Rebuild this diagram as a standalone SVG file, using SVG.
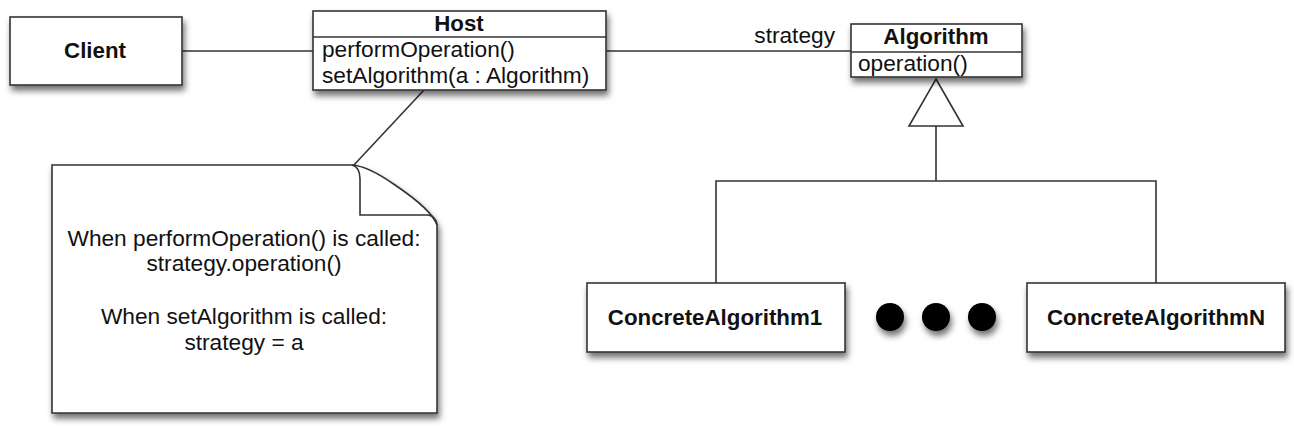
<svg xmlns="http://www.w3.org/2000/svg" width="1294" height="444" viewBox="0 0 1294 444">
<defs>
<filter id="sh" x="-10%" y="-20%" width="125%" height="160%">
<feDropShadow dx="2" dy="5" stdDeviation="3" flood-color="#000" flood-opacity="0.55"/>
</filter>
<style>
.box{fill:#fff;stroke:#333;stroke-width:1.6;}
.ln{fill:none;stroke:#333;stroke-width:1.6;}
.t{font-family:"Liberation Sans",Arial,sans-serif;font-size:22.7px;fill:#111;}
.b{font-weight:bold;font-size:22.3px;}
.c{text-anchor:middle;}
</style>
</defs>
<rect width="1294" height="444" fill="#fff"/>
<g id="connectors">
<line class="ln" x1="182" y1="51" x2="313" y2="51"/>
<line class="ln" x1="606" y1="51" x2="851" y2="51"/>
<line class="ln" x1="424" y1="90" x2="353" y2="166"/>
<path class="ln" d="M716,283 L716,181 L1156,181 L1156,283"/>
<line class="ln" x1="936" y1="181" x2="936" y2="126"/>
<polygon class="box" points="936,79 963,126 909,126"/>
<text class="t" x="835" y="43" text-anchor="end">strategy</text>
</g>
<g id="client">
<rect class="box" x="10" y="17" width="172" height="68" filter="url(#sh)"/>
<text class="t b c" x="95" y="58">Client</text>
</g>
<g id="host">
<rect class="box" x="313" y="11" width="293" height="79" filter="url(#sh)"/>
<line class="ln" x1="313" y1="37" x2="606" y2="37"/>
<text class="t b c" x="459" y="31">Host</text>
<text class="t" x="322" y="57">performOperation()</text>
<text class="t" x="322" y="83">setAlgorithm(a : Algorithm)</text>
</g>
<g id="algorithm">
<rect class="box" x="851" y="24" width="171" height="53" filter="url(#sh)"/>
<line class="ln" x1="851" y1="52" x2="1022" y2="52"/>
<text class="t b c" x="936" y="44">Algorithm</text>
<text class="t" x="858" y="71">operation()</text>
</g>
<g id="note">
<path class="box" d="M52,165 L352,165 Q368,166 395,185 Q432,210 437,225 L437,413 L52,413 Z" filter="url(#sh)"/>
<path class="ln" d="M352,165 Q360,167 360,179 L360,215 L428,215 Q436,216 437,225"/>
<text class="t c" x="244" y="246">When performOperation() is called:</text>
<text class="t c" x="244" y="271">strategy.operation()</text>
<text class="t c" x="244" y="324">When setAlgorithm is called:</text>
<text class="t c" x="244" y="350">strategy = a</text>
</g>
<g id="concrete1">
<rect class="box" x="587" y="283" width="258" height="69" filter="url(#sh)"/>
<text class="t b c" x="715" y="325">ConcreteAlgorithm1</text>
</g>
<g id="ellipsis" filter="url(#sh)">
<circle cx="890" cy="317" r="14" fill="#000"/>
<circle cx="936" cy="317" r="14" fill="#000"/>
<circle cx="982" cy="317" r="14" fill="#000"/>
</g>
<g id="concreteN">
<rect class="box" x="1027" y="283" width="258" height="69" filter="url(#sh)"/>
<text class="t b c" x="1156" y="325">ConcreteAlgorithmN</text>
</g>
</svg>
